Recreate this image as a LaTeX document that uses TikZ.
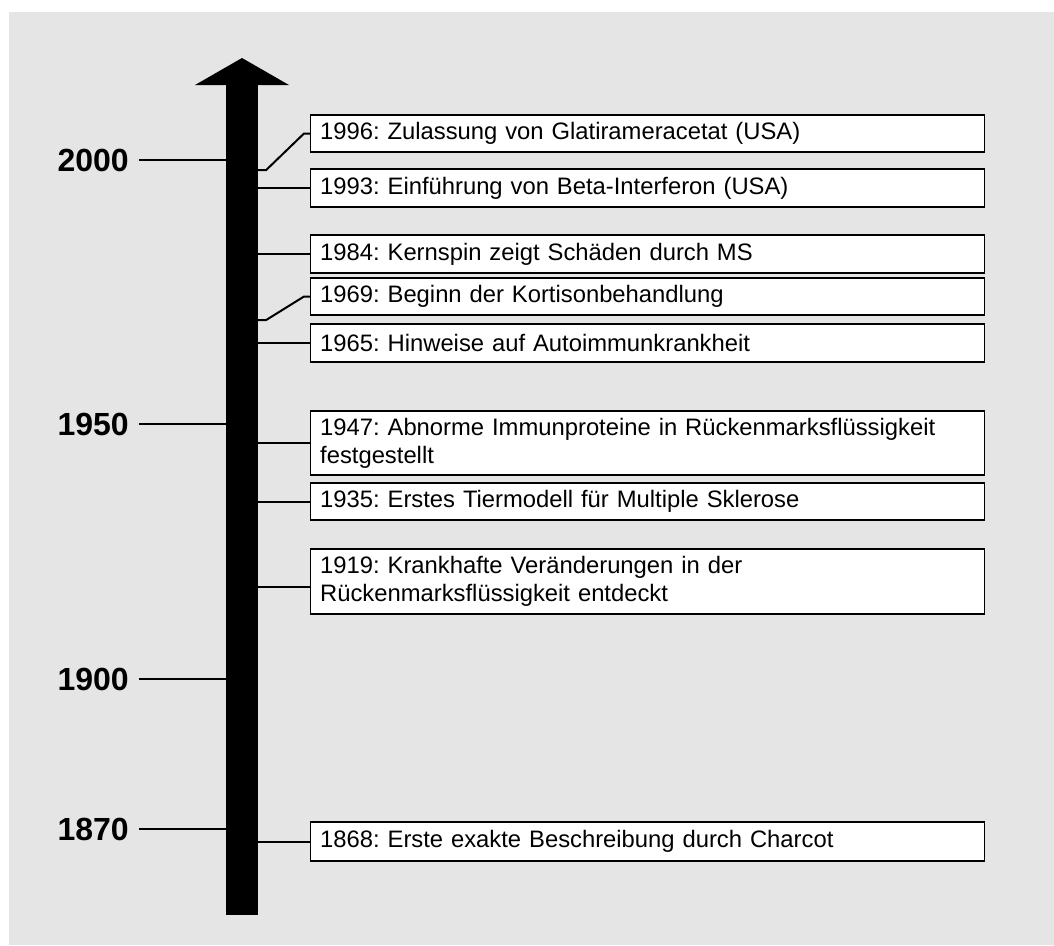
\documentclass[tikz,border=0pt]{standalone}
\usepackage{fontspec}
\setmainfont{Liberation Sans}
\frenchspacing
\definecolor{bg}{HTML}{E5E5E5}

\tikzset{
  event/.style={draw=black, line width=1.3pt, fill=white, anchor=west,
    text width=655pt, align=left, inner xsep=9.5pt, inner ysep=0pt,
    minimum height=37pt, font=\fontsize{23.8}{28}\selectfont},
  year/.style={anchor=east, inner sep=0pt, font=\fontsize{32}{36}\selectfont\bfseries},
  tick/.style={line width=2pt},
}

\begin{document}
\begin{tikzpicture}[x=1pt, y=-1pt]
    \useasboundingbox (0,0) rectangle (1054,945);
    \fill[bg] (9,12) rectangle (1054,945);

    % time axis
    \node at (242,500) (shaft) [fill=black, inner sep=0pt, minimum width=32pt, minimum height=830pt] {};
    \fill (195,85) -- (242,58) -- (289,85) -- cycle;

    % years on the left
    \node at (129,160) (y2000) [year] {2000};
    \node at (129,424) (y1950) [year] {1950};
    \node at (129,679) (y1900) [year] {1900};
    \node at (129,829) (y1870) [year] {1870};

    \draw[tick] ([xshift=10pt]y2000.east) -- (y2000 -| shaft.west);
    \draw[tick] ([xshift=10pt]y1950.east) -- (y1950 -| shaft.west);
    \draw[tick] ([xshift=10pt]y1900.east) -- (y1900 -| shaft.west);
    \draw[tick] ([xshift=10pt]y1870.east) -- (y1870 -| shaft.west);

    % events
    \node at (310,133.5) (e1996) [event] {1996: Zulassung von Glatirameracetat (USA)};
    \node at (310,188) (e1993) [event, minimum height=38pt] {1993: Einführung von Beta-Interferon (USA)};
    \node at (310,254) (e1984) [event, minimum height=38pt] {1984: Kernspin zeigt Schäden durch MS};
    \node at (310,296.5) (e1969) [event] {1969: Beginn der Kortisonbehandlung};
    \node at (310,343) (e1965) [event, minimum height=38pt] {1965: Hinweise auf Autoimmunkrankheit};
    \node at (310,443) (e1947) [event, minimum height=64pt] {1947: Abnorme Immunproteine in Rückenmarksflüssigkeit\\festgestellt};
    \node at (310,501.5) (e1935) [event] {1935: Erstes Tiermodell für Multiple Sklerose};
    \node at (310,581.5) (e1919) [event, minimum height=65pt] {1919: Krankhafte Veränderungen in der\\Rückenmarksflüssigkeit entdeckt};
    \node at (310,841.5) (e1868) [event, minimum height=39pt] {1868: Erste exakte Beschreibung durch Charcot};

    % where the events sit on the axis
    \coordinate (d1996) at (shaft.east |- 0,170);
    \coordinate (d1969) at (shaft.east |- 0,320);
    \coordinate (d1919) at (shaft.east |- 0,587);

    \draw[tick] (d1996) -- ++(8,0) -- ([xshift=-6pt]e1996.west) -- (e1996.west);
    \draw[tick] (shaft.east |- e1993.west) -- (e1993.west);
    \draw[tick] (shaft.east |- e1984.west) -- (e1984.west);
    \draw[tick] (d1969) -- ++(8,0) -- ([xshift=-6pt]e1969.west) -- (e1969.west);
    \draw[tick] (shaft.east |- e1965.west) -- (e1965.west);
    \draw[tick] (shaft.east |- e1947.west) -- (e1947.west);
    \draw[tick] (shaft.east |- e1935.west) -- (e1935.west);
    \draw[tick] (d1919) -- (d1919 -| e1919.west);
    \draw[tick] (shaft.east |- e1868.west) -- (e1868.west);
\end{tikzpicture}
\end{document}
